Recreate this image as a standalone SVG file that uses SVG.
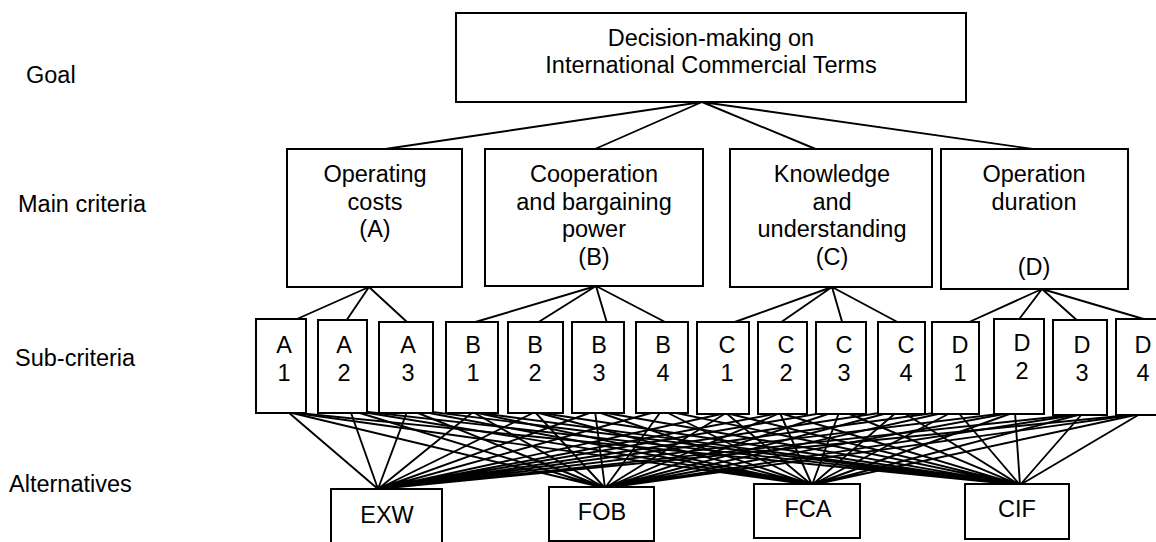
<svg xmlns="http://www.w3.org/2000/svg" width="1156" height="542" viewBox="0 0 1156 542">
<style>
text{font-family:"Liberation Sans",Arial,sans-serif;font-size:23.5px;fill:#000;text-anchor:middle}
.lbl{text-anchor:start}
rect{fill:#fff;stroke:#000;stroke-width:2}
.c{fill:none;stroke:#000;stroke-width:1.9}
</style>
<rect x="0" y="0" width="1156" height="542" style="stroke:none;fill:#fff"/>
<g id="level-labels">
<text class="lbl" x="26" y="83">Goal</text>
<text class="lbl" x="18" y="212">Main criteria</text>
<text class="lbl" x="15" y="366">Sub-criteria</text>
<text class="lbl" x="9" y="492">Alternatives</text>
</g>
<g id="connectors">
<path class="c" d="M702,102 L365,152 M702,102 L595,149 M702,102 L818,150 M702,102 L1040,150"/>
<path class="c" d="M369,287 L288,323 M369,287 L344,324 M369,287 L407,322"/>
<path class="c" d="M596,286 L472,323 M596,286 L537,323 M596,286 L607,323 M596,286 L667,323"/>
<path class="c" d="M832,287 L732,323 M832,287 L777,325 M832,287 L843,325 M832,287 L903,325"/>
<path class="c" d="M1042,289 L967,323 M1042,289 L1017,322 M1042,289 L1080,323 M1042,289 L1147,320"/>
<path class="c" d="M378,489 L288,412 M378,489 L350,410 M378,489 L408,409 M378,489 L473,412 M378,489 L535,412 M378,489 L595,411 M378,489 L662,410 M378,489 L726,413 M378,489 L780,413 M378,489 L840,410 M378,489 L899,410 M378,489 L956,410 M378,489 L1015,412 M378,489 L1082,414 M378,489 L1140,414"/>
<path class="c" d="M605,488 L288,412 M605,488 L350,410 M605,488 L408,409 M605,488 L473,412 M605,488 L535,412 M605,488 L595,411 M605,488 L662,410 M605,488 L726,413 M605,488 L780,413 M605,488 L840,410 M605,488 L899,410 M605,488 L956,410 M605,488 L1015,412 M605,488 L1082,414 M605,488 L1140,414"/>
<path class="c" d="M812,485 L288,412 M812,485 L350,410 M812,485 L408,409 M812,485 L473,412 M812,485 L535,412 M812,485 L595,411 M812,485 L662,410 M812,485 L726,413 M812,485 L780,413 M812,485 L840,410 M812,485 L899,410 M812,485 L956,410 M812,485 L1015,412 M812,485 L1082,414 M812,485 L1140,414"/>
<path class="c" d="M1020,485 L288,412 M1020,485 L350,410 M1020,485 L408,409 M1020,485 L473,412 M1020,485 L535,412 M1020,485 L595,411 M1020,485 L662,410 M1020,485 L726,413 M1020,485 L780,413 M1020,485 L840,410 M1020,485 L899,410 M1020,485 L956,410 M1020,485 L1015,412 M1020,485 L1082,414 M1020,485 L1140,414"/>
</g>
<g id="goal">
<rect x="456" y="13" width="510" height="89"/>
<text x="711" y="46">Decision-making on</text>
<text x="711" y="73">International Commercial Terms</text>
</g>
<g id="main-A">
<rect x="287" y="149" width="175" height="138"/>
<text x="375" y="182">Operating</text>
<text x="375" y="210">costs</text>
<text x="375" y="237">(A)</text>
</g>
<g id="main-B">
<rect x="485" y="149" width="218" height="137"/>
<text x="594" y="182">Cooperation</text>
<text x="594" y="210">and bargaining</text>
<text x="594" y="237">power</text>
<text x="594" y="265">(B)</text>
</g>
<g id="main-C">
<rect x="730" y="149" width="202" height="138"/>
<text x="832" y="182">Knowledge</text>
<text x="832" y="210">and</text>
<text x="832" y="237">understanding</text>
<text x="832" y="265">(C)</text>
</g>
<g id="main-D">
<rect x="941" y="149" width="187" height="140"/>
<text x="1034" y="182">Operation</text>
<text x="1034" y="210">duration</text>
<text x="1034" y="275">(D)</text>
</g>
<g id="sub-A1"><rect x="256" y="319" width="50" height="94"/><text x="284" y="353">A</text><text x="284" y="381">1</text></g>
<g id="sub-A2"><rect x="318" y="320" width="49" height="93"/><text x="344" y="353">A</text><text x="344" y="381">2</text></g>
<g id="sub-A3"><rect x="379" y="322" width="54" height="91"/><text x="408" y="353">A</text><text x="408" y="381">3</text></g>
<g id="sub-B1"><rect x="446" y="322" width="52" height="91"/><text x="473" y="353">B</text><text x="473" y="381">1</text></g>
<g id="sub-B2"><rect x="508" y="322" width="55" height="91"/><text x="535" y="353">B</text><text x="535" y="381">2</text></g>
<g id="sub-B3"><rect x="572" y="322" width="52" height="91"/><text x="599" y="353">B</text><text x="599" y="381">3</text></g>
<g id="sub-B4"><rect x="636" y="322" width="52" height="91"/><text x="663" y="353">B</text><text x="663" y="381">4</text></g>
<g id="sub-C1"><rect x="697" y="322" width="52" height="92"/><text x="727" y="353">C</text><text x="727" y="381">1</text></g>
<g id="sub-C2"><rect x="758" y="322" width="49" height="92"/><text x="786" y="353">C</text><text x="786" y="381">2</text></g>
<g id="sub-C3"><rect x="816" y="322" width="50" height="92"/><text x="844" y="353">C</text><text x="844" y="381">3</text></g>
<g id="sub-C4"><rect x="878" y="322" width="47" height="92"/><text x="906" y="353">C</text><text x="906" y="381">4</text></g>
<g id="sub-D1"><rect x="932" y="322" width="47" height="92"/><text x="960" y="353">D</text><text x="960" y="381">1</text></g>
<g id="sub-D2"><rect x="994" y="319" width="50" height="95"/><text x="1022" y="351">D</text><text x="1022" y="379">2</text></g>
<g id="sub-D3"><rect x="1053" y="320" width="54" height="95"/><text x="1082" y="353">D</text><text x="1082" y="381">3</text></g>
<g id="sub-D4"><rect x="1116" y="319" width="52" height="96"/><text x="1143" y="353">D</text><text x="1143" y="381">4</text></g>
<g id="alt-EXW"><rect x="331" y="489" width="111" height="56"/><text x="387" y="523">EXW</text></g>
<g id="alt-FOB"><rect x="549" y="487" width="105" height="54"/><text x="602" y="520">FOB</text></g>
<g id="alt-FCA"><rect x="754" y="484" width="106" height="54"/><text x="808" y="517">FCA</text></g>
<g id="alt-CIF"><rect x="965" y="484" width="104" height="55"/><text x="1017" y="517">CIF</text></g>
</svg>
